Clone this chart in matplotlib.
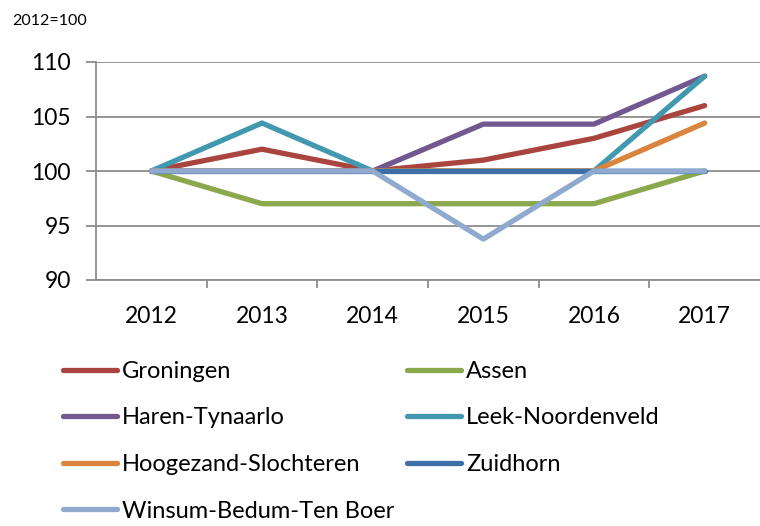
import matplotlib
matplotlib.use("Agg")
import matplotlib.pyplot as plt
import numpy as np

# index, 2012 = 100
years = ["2012", "2013", "2014", "2015", "2016", "2017"]
groningen = [100, 102, 100, 101, 103, 106]
assen = [100, 97, 97, 97, 97, 100]
haren = [100, 100, 100, 104.3, 104.3, 108.7]
leek = [100, 104.4, 100, 100, 100, 108.7]
hoogezand = [100, 100, 100, 100, 100, 104.4]
zuidhorn = [100, 100, 100, 100, 100, 100]
winsum = [100, 100, 100, 93.75, 100, 100]

series = [
    ("Groningen", groningen, "#A9443F"),
    ("Assen", assen, "#8BA84C"),
    ("Haren-Tynaarlo", haren, "#71588F"),
    ("Leek-Noordenveld", leek, "#4198AF"),
    ("Hoogezand-Slochteren", hoogezand, "#DB843D"),
    ("Zuidhorn", zuidhorn, "#3E6FA6"),
    ("Winsum-Bedum-Ten Boer", winsum, "#8FA9CF"),
]

plt.rcParams["font.family"] = ["Lato", "DejaVu Sans"]

W, H = 760, 526
fig = plt.figure(figsize=(W / 100, H / 100), dpi=100)
ax = fig.add_axes([96 / W, 1 - 280 / H, (W - 96) / W, (280 - 62) / H])

x = np.arange(len(years))
handles = {}
for name, vals, col in series:
    ln, = ax.plot(x, vals, color=col, lw=3.8, solid_capstyle="round",
                  solid_joinstyle="round", label=name)
    handles[name] = ln

ax.set_xlim(-0.5, len(years) - 0.5)
ax.set_ylim(90, 110)
ax.set_yticks([90, 95, 100, 105, 110])
ax.set_xticks(x)
ax.set_xticklabels(years)
ax.set_xticks(np.arange(0.5, len(years) - 0.5, 1), minor=True)

grid_col = "#8C8C8C"
ax.grid(axis="y", color=grid_col, lw=1.3, zorder=0)
ax.set_axisbelow(True)
for s in ["top", "right"]:
    ax.spines[s].set_visible(False)
for s in ["left", "bottom"]:
    ax.spines[s].set_color(grid_col)
    ax.spines[s].set_linewidth(1.3)

ax.tick_params(axis="y", direction="out", length=7, width=1.3, color=grid_col,
               pad=11, labelsize=16.5)
ax.tick_params(axis="x", which="major", length=0, pad=19, labelsize=16.5)
ax.tick_params(axis="x", which="minor", direction="out", length=6, width=1.3,
               color=grid_col)

fig.text(12 / W, 1 - 21 / H, "2012=100", fontsize=11.5, va="center", ha="left")

col1 = ["Groningen", "Haren-Tynaarlo", "Hoogezand-Slochteren", "Winsum-Bedum-Ten Boer"]
col2 = ["Assen", "Leek-Noordenveld", "Zuidhorn"]
leg_kw = dict(loc="upper left", frameon=False, fontsize=17, borderpad=0,
              borderaxespad=0, handlelength=2.3, handletextpad=0.2,
              labelspacing=1.08)
fig.legend([handles[n] for n in col1], col1,
           bbox_to_anchor=(63 / W, 1 - 361 / H), **leg_kw)
fig.legend([handles[n] for n in col2], col2,
           bbox_to_anchor=(407 / W, 1 - 361 / H), **leg_kw)

fig.savefig("out.png", dpi=100)
